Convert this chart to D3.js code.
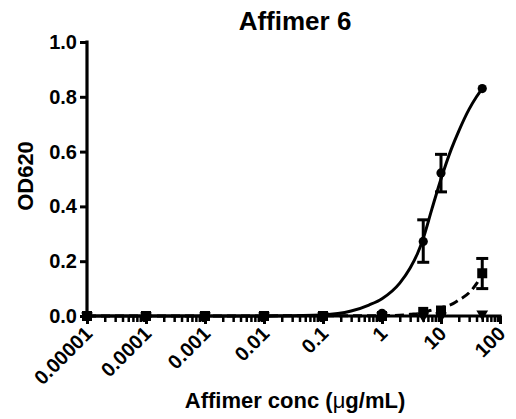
<!DOCTYPE html>
<html><head><meta charset="utf-8">
<script src="https://cdn.jsdelivr.net/npm/d3@7"></script>
<style>
html,body{margin:0;padding:0;background:#fff;}
svg{display:block;}
text{font-family:"Liberation Sans",Arial,sans-serif;font-weight:bold;fill:#000;}
</style></head>
<body>
<svg id="chart" width="516" height="419"></svg>
<script>
// ---- data ----
const title = "Affimer 6";
const yLabel = "OD620";
const xLabelMain = "Affimer conc (";
const xLabelMu = "\u03bc";
const xLabelRest = "g/mL)";
const conc = [0.00001, 0.0001, 0.001, 0.01, 0.1, 1, 5, 10, 50];
// series 1: circles (solid fit)
const s1Mean = [0, 0, 0, 0, 0, 0.01, 0.272, 0.522, 0.83];
const s1Lo   = [null, null, null, null, null, null, 0.196, 0.453, null];
const s1Hi   = [null, null, null, null, null, null, 0.351, 0.59, null];
// series 2: squares (dashed fit)
const s2Mean = [0, 0, 0, 0, 0, 0, 0.015, 0.02, 0.156];
const s2Lo   = [null, null, null, null, null, null, null, null, 0.10];
const s2Hi   = [null, null, null, null, null, null, null, null, 0.21];
// series 3: down triangles
const s3Mean = [0, 0, 0, 0, 0, 0, 0, 0, 0.008];
// fitted curves
const fit1X = [0.00001, 0.01, 0.1, 0.3, 0.6, 1, 2, 3, 4, 5, 7, 10, 15, 20, 30, 40, 50];
const fit1Y = [0, 0, 0.004, 0.018, 0.04, 0.063, 0.12, 0.175, 0.228, 0.283, 0.39, 0.50, 0.61, 0.675, 0.755, 0.80, 0.83];
const fit2X = [0.00001, 1, 3, 5, 6.5, 10, 16, 20, 30, 40, 50];
const fit2Y = [0, 0.001, 0.006, 0.012, 0.02, 0.03, 0.045, 0.058, 0.085, 0.118, 0.156];
const yTicks = [0, 0.2, 0.4, 0.6, 0.8, 1.0];
const xTicks = [0.00001, 0.0001, 0.001, 0.01, 0.1, 1, 10, 100];
const xTickLabels = ["0.00001", "0.0001", "0.001", "0.01", "0.1", "1", "10", "100"];

// ---- chart ----
const svg = d3.select("#chart");
const x = d3.scaleLog().domain([0.00001, 100]).range([87, 500]);
const y = d3.scaleLinear().domain([0, 1]).range([316, 42]);

// title
svg.append("text").attr("x", 295).attr("y", 30).attr("text-anchor", "middle")
  .style("font-size", "26px").text(title);
// y label
svg.append("text").attr("transform", "translate(33,176) rotate(-90)")
  .attr("text-anchor", "middle").style("font-size", "22px").text(yLabel);
// x label
const xl = svg.append("text").attr("x", 295).attr("y", 408).attr("text-anchor", "middle")
  .style("font-size", "22px");
xl.append("tspan").text(xLabelMain);
xl.append("tspan").style("font-weight", "normal").text(xLabelMu);
xl.append("tspan").text(xLabelRest);

// y axis
const yAxis = svg.append("g").attr("transform", "translate(87,0)")
  .call(d3.axisLeft(y).tickValues(yTicks).tickFormat(d3.format(".1f")).tickSize(7).tickSizeOuter(0).tickPadding(3));
yAxis.select(".domain").attr("stroke-width", 3.2).attr("d", "M0," + (y(0) + 1.5) + "V" + (y(1) - 1.5));
yAxis.selectAll(".tick line").attr("stroke-width", 3);
yAxis.selectAll(".tick text").style("font-size", "20px").style("font-family", "Liberation Sans, Arial, sans-serif").style("font-weight", "bold");

// x axis minor ticks
const minor = [];
for (let e = -5; e < 2; e++) for (let m = 2; m <= 9; m++) minor.push(m * Math.pow(10, e));
const xMinor = svg.append("g").attr("transform", "translate(0," + y(0) + ")")
  .call(d3.axisBottom(x).tickValues(minor).tickFormat("").tickSize(6).tickSizeOuter(0));
xMinor.select(".domain").remove();
xMinor.selectAll(".tick line").attr("stroke-width", 2.5);
// x axis major
const xAxis = svg.append("g").attr("transform", "translate(0," + y(0) + ")")
  .call(d3.axisBottom(x).tickValues(xTicks).tickFormat("").tickSize(8).tickSizeOuter(0));
xAxis.select(".domain").attr("stroke-width", 3.2).attr("d", "M" + (x(0.00001) - 1.5) + ",0H" + (x(100) + 1.5));
xAxis.selectAll(".tick line").attr("stroke-width", 3);
xAxis.selectAll(".tick").append("text")
  .attr("transform", "translate(6,19) rotate(-45)")
  .attr("text-anchor", "end")
  .attr("fill", "#000")
  .style("font-size", "20px").style("font-family", "Liberation Sans, Arial, sans-serif").style("font-weight", "bold")
  .text((d, i) => xTickLabels[i]);

// fit lines
const line = d3.line().x(d => x(d[0])).y(d => y(d[1])).curve(d3.curveMonotoneX);
svg.append("path").datum(fit2X.map((v, i) => [v, fit2Y[i]]))
  .attr("d", line).attr("fill", "none").attr("stroke", "#000").attr("stroke-width", 3)
  .attr("stroke-dasharray", "9,5");
svg.append("path").datum(fit1X.map((v, i) => [v, fit1Y[i]]))
  .attr("d", line).attr("fill", "none").attr("stroke", "#000").attr("stroke-width", 3);

// error bars
function errBars(lo, hi) {
  const g = svg.append("g").attr("stroke", "#000").attr("stroke-width", 3);
  conc.forEach((c, i) => {
    if (lo[i] == null) return;
    const cx = x(c);
    g.append("line").attr("x1", cx).attr("x2", cx).attr("y1", y(lo[i])).attr("y2", y(hi[i]));
    g.append("line").attr("x1", cx - 6).attr("x2", cx + 6).attr("y1", y(lo[i])).attr("y2", y(lo[i]));
    g.append("line").attr("x1", cx - 6).attr("x2", cx + 6).attr("y1", y(hi[i])).attr("y2", y(hi[i]));
  });
}
errBars(s1Lo, s1Hi);
errBars(s2Lo, s2Hi);

// markers
const triSym = d3.symbol().type(d3.symbolTriangle).size(60);
svg.append("g").selectAll("path").data(conc.map((c, i) => [c, s3Mean[i]])).join("path")
  .attr("d", triSym).attr("transform", d => "translate(" + x(d[0]) + "," + y(d[1]) + ") rotate(180)").attr("fill", "#000");
svg.append("g").selectAll("rect").data(conc.map((c, i) => [c, s2Mean[i]])).join("rect")
  .attr("x", d => x(d[0]) - 5).attr("y", d => y(d[1]) - 5).attr("width", 10).attr("height", 10).attr("fill", "#000");
svg.append("g").selectAll("circle").data(conc.map((c, i) => [c, s1Mean[i]])).join("circle")
  .attr("cx", d => x(d[0])).attr("cy", d => y(d[1])).attr("r", 4.6).attr("fill", "#000");
</script>
</body></html>
